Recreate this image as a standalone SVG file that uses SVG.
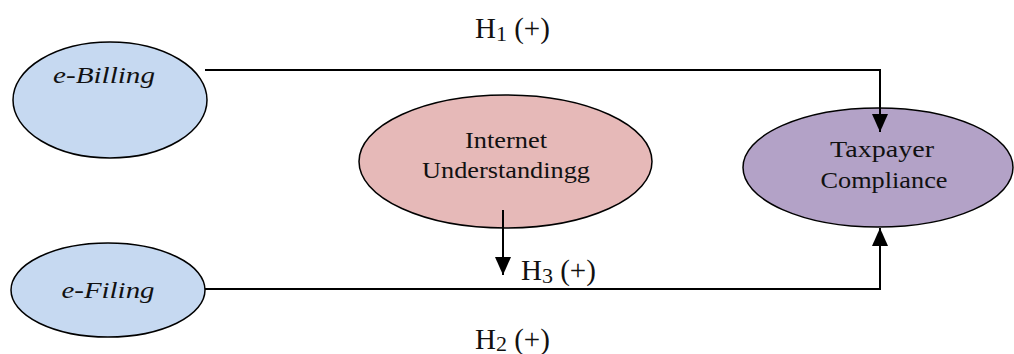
<svg xmlns="http://www.w3.org/2000/svg" width="1014" height="354" viewBox="0 0 1014 354">
<style>
.node{stroke:#000;stroke-width:1.5}
.t{font-family:"Liberation Serif","Times New Roman",serif;font-size:24px;fill:#111;text-anchor:middle}
.it{font-style:italic}
.h{font-family:"Liberation Serif","Times New Roman",serif;font-size:29px;fill:#111}
.sub{font-size:22px}
.c{fill:none;stroke:#000;stroke-width:2}
</style>
<defs>
<marker id="arr" viewBox="0 0 18 16" refX="18" refY="8" markerWidth="18" markerHeight="16" markerUnits="userSpaceOnUse" orient="auto">
<path d="M0,0 L18,8 L0,16 Z" fill="#000"/>
</marker>
</defs>
<rect width="1014" height="354" fill="#fff"/>
<g id="e-billing">
<ellipse class="node" cx="110" cy="100" rx="97" ry="58" fill="#C6D9F1"/>
<text class="t it" x="104" y="83" textLength="102" lengthAdjust="spacingAndGlyphs">e-Billing</text>
</g>
<g id="e-filing">
<ellipse class="node" cx="108" cy="290" rx="97" ry="47" fill="#C6D9F1"/>
<text class="t it" x="108" y="298" textLength="93" lengthAdjust="spacingAndGlyphs">e-Filing</text>
</g>
<g id="internet-understanding">
<ellipse class="node" cx="505.5" cy="161.5" rx="146.5" ry="66.5" fill="#E6B9B8"/>
<text class="t" x="506" y="148" textLength="82" lengthAdjust="spacingAndGlyphs">Internet</text>
<text class="t" x="506" y="178" textLength="168" lengthAdjust="spacingAndGlyphs">Understandingg</text>
</g>
<g id="taxpayer-compliance">
<ellipse class="node" cx="878" cy="167.5" rx="135" ry="59.5" fill="#B3A2C7"/>
<text class="t" x="882" y="157" textLength="104" lengthAdjust="spacingAndGlyphs">Taxpayer</text>
<text class="t" x="884" y="188" textLength="127" lengthAdjust="spacingAndGlyphs">Compliance</text>
</g>
<g id="connectors">
<polyline class="c" points="205,70 880,70 880,132" marker-end="url(#arr)"/>
<polyline class="c" points="205,289 880,289 880,228" marker-end="url(#arr)"/>
<line class="c" x1="503" y1="210" x2="503" y2="275" marker-end="url(#arr)"/>
</g>
<g id="labels">
<text class="h" x="475" y="38">H<tspan class="sub" dy="3">1</tspan><tspan dy="-3"> (+)</tspan></text>
<text class="h" x="475" y="349">H<tspan class="sub" dy="2">2</tspan><tspan dy="-2"> (+)</tspan></text>
<text class="h" x="521" y="280">H<tspan class="sub" dy="3">3</tspan><tspan dy="-3"> (+)</tspan></text>
</g>
</svg>
